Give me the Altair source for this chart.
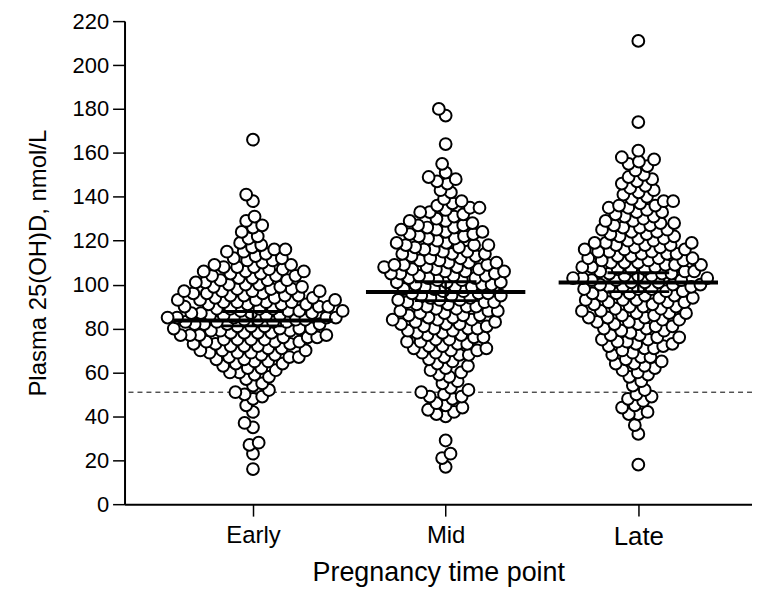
import math
import altair as alt
import pandas as pd

# ---------------- data ----------------
categories = ["Early", "Mid", "Late"]

early_vals = [
    16, 23, 27, 28, 35, 37, 42, 45, 48, 49,
    50, 51, 52, 54, 55, 57, 58, 59,
    60, 60, 61, 62, 62, 63, 64, 64, 65, 65, 66, 66, 67, 67, 67, 68, 68, 69, 69, 69,
    70, 70, 70, 71, 71, 72, 72, 72, 73, 73, 73, 74, 74, 74, 75, 75, 75, 75, 76, 76, 76,
    77, 77, 77, 77, 78, 78, 78, 78, 79, 79, 79,
    80, 80, 80, 80, 81, 81, 81, 82, 82, 82, 82, 83, 83, 83, 83, 84, 84, 84, 84,
    85, 85, 85, 85, 85, 86, 86, 86, 86, 87, 87, 87, 87, 88, 88, 88, 88, 89, 89, 89, 89,
    90, 90, 90, 91, 91, 91, 91, 92, 92, 92, 92, 93, 93, 93, 93, 94, 94, 94,
    95, 95, 95, 95, 96, 96, 96, 97, 97, 97, 97, 98, 98, 98, 99, 99, 99,
    100, 100, 100, 101, 101, 102, 102, 102, 103, 103, 104, 104, 104, 105, 105,
    106, 106, 106, 107, 107, 108, 108, 108, 109, 109,
    110, 111, 111, 112, 112, 113, 114, 115, 115, 116, 116, 117, 118, 119,
    121, 122, 124, 126, 127, 129, 131, 138, 141, 166,
]

mid_vals = [
    17, 21, 23, 29,
    40, 41, 42, 43, 44, 45, 46, 48, 49, 49,
    50, 51, 52, 53, 55, 56, 58, 59,
    60, 61, 62, 63, 64, 65, 66, 67, 68, 68, 69, 69,
    70, 70, 71, 71, 72, 72, 73, 73, 74, 74, 75, 75, 76, 76, 77, 77, 78, 78, 79, 79,
    80, 80, 80, 81, 81, 82, 82, 82, 83, 83, 84, 84, 84, 85, 85, 86, 86, 86, 87, 87,
    88, 88, 88, 89, 89,
    90, 90, 90, 91, 91, 92, 92, 92, 93, 93, 93, 94, 94, 95, 95, 95,
    96, 96, 96, 97, 97, 98, 98, 99, 99, 99,
    100, 100, 100, 101, 101, 101, 102, 102, 103, 103, 103, 104, 104, 104,
    105, 105, 105, 106, 106, 106, 107, 107, 107, 108, 108, 108, 109, 109, 109,
    110, 110, 110, 111, 111, 112, 112, 113, 113, 114, 114, 114, 115, 115,
    116, 116, 117, 117, 118, 118, 118, 119, 119,
    120, 121, 121, 122, 122, 123, 123, 124, 124, 125, 125, 126, 126, 127, 127, 128, 129, 129,
    130, 131, 132, 133, 133, 134, 135, 135, 136, 137, 138, 139,
    142, 143, 146, 147, 148, 149, 151, 155, 164, 177, 180,
]

late_vals = [
    18, 32, 36,
    41, 41, 42, 44, 45, 47, 48, 49,
    50, 52, 54, 56, 58, 59,
    60, 61, 62, 63, 64, 64, 65, 66, 67, 67, 68, 69,
    70, 71, 71, 72, 72, 73, 73, 74, 74, 75, 75, 76, 76, 77, 77, 78, 79, 79,
    80, 80, 81, 81, 82, 82, 83, 83, 84, 84, 85, 85, 85, 86, 86, 87, 87, 87, 88, 88, 89, 89,
    90, 90, 90, 91, 91, 92, 92, 92, 93, 93, 93, 94, 94, 95, 95, 95,
    96, 96, 96, 97, 97, 98, 98, 98, 99, 99, 99,
    100, 100, 100, 101, 101, 101, 102, 102, 102, 103, 103, 103, 104, 104, 104,
    105, 105, 105, 106, 106, 106, 107, 107, 107, 108, 108, 108, 109, 109, 109,
    110, 110, 110, 111, 111, 111, 112, 112, 112, 113, 113, 114, 114, 114, 115, 115, 115,
    116, 116, 116, 117, 117, 118, 118, 118, 119, 119, 119,
    120, 120, 121, 121, 122, 122, 123, 123, 124, 124, 125, 125, 126, 126, 127, 127, 128, 128,
    129, 129,
    130, 131, 131, 132, 133, 133, 134, 135, 135, 136, 136, 137, 138, 138, 139,
    140, 141, 142, 143, 144, 145, 146, 147, 148, 149,
    150, 152, 154, 155, 156, 157, 158, 161, 174, 211,
]

mean_vals = [83.6, 96.6, 101.0]
ci_lo = [81.2, 92.7, 96.8]
ci_hi = [87.7, 101.3, 105.4]
threshold = 51

# ---------------- layout helpers ----------------
W, H = 630, 485
Y_MAX = 220
X_MIN, X_MAX = 1 / 3, 3.59
PX_Y = H / Y_MAX
PX_X = W / (X_MAX - X_MIN)


def swarm(vals, d):
    """Deterministic beeswarm: horizontal pixel offsets for each value."""
    ypx = [v * PX_Y for v in vals]
    order = sorted(range(len(vals)), key=lambda i: vals[i])
    xs = [0.0] * len(vals)
    placed = []
    for i in order:
        y = ypx[i]
        forb = []
        for py, pxx in placed:
            dy = abs(y - py)
            if dy < d:
                w = math.sqrt(d * d - dy * dy)
                forb.append((pxx - w, pxx + w))
        cands = [0.0] + [a for a, b in forb] + [b for a, b in forb]
        cands.sort(key=lambda c: (abs(c), c))
        for c in cands:
            if all(not (a + 1e-6 < c < b - 1e-6) for a, b in forb):
                xs[i] = c
                break
        placed.append((y, xs[i]))
    return xs


rows = []
for gi, vals in enumerate([early_vals, mid_vals, late_vals], start=1):
    offs = swarm(vals, 9.5)
    for v, o in zip(vals, offs):
        rows.append({"group": categories[gi - 1], "value": v, "x": gi + o / PX_X})
pts = pd.DataFrame(rows)

stats = pd.DataFrame({
    "group": categories,
    "pos": [1, 2, 3],
    "mean": mean_vals,
    "lo": ci_lo,
    "hi": ci_hi,
})
MEAN_HALF = 80 / PX_X
CAP_HALF = 31 / PX_X
stats["ml"] = stats["pos"] - MEAN_HALF
stats["mr"] = stats["pos"] + MEAN_HALF
stats["cl"] = stats["pos"] - CAP_HALF
stats["cr"] = stats["pos"] + CAP_HALF

FONT = "Liberation Sans"

xscale = alt.Scale(domain=[X_MIN, X_MAX], nice=False, zero=False)
yscale = alt.Scale(domain=[0, Y_MAX], nice=False)

label_expr = "datum.value == 1 ? 'Early' : datum.value == 2 ? 'Mid' : 'Late'"

x_axis = alt.Axis(
    values=[1, 2, 3], labelExpr=label_expr, title="Pregnancy time point",
    grid=False, tickSize=12, tickWidth=1.5, domainWidth=2, domainColor="black",
    tickColor="black", labelColor="black",
    labelFontSize={"condition": {"test": "datum.value == 3", "value": 26}, "value": 24},
    labelFont=FONT, labelPadding=7, titleFont=FONT, titleFontSize=27,
    titleFontWeight="normal", titleColor="black", titlePadding=11,
)
y_axis = alt.Axis(
    values=list(range(0, 221, 20)), title="Plasma 25(OH)D, nmol/L",
    grid=False, tickSize=12, tickWidth=1.5, domainWidth=2, domainColor="black",
    tickColor="black", labelColor="black", labelFontSize=22, labelFont=FONT,
    labelPadding=4, titleFont=FONT, titleFontSize=24, titleFontWeight="normal",
    titleColor="black", titlePadding=22,
)

dashed = alt.Chart(pd.DataFrame({"t": [threshold]})).mark_rule(
    color="black", strokeWidth=1, strokeDash=[5, 4]
).encode(y=alt.Y("t:Q", scale=yscale, axis=y_axis))

points = alt.Chart(pts).mark_point(
    shape="circle", filled=False, fill="white", fillOpacity=1, stroke="black",
    strokeWidth=2, size=140, opacity=1,
).encode(
    x=alt.X("x:Q", scale=xscale, axis=x_axis),
    y=alt.Y("value:Q", scale=yscale, axis=y_axis),
)

mean_line = alt.Chart(stats).mark_rule(color="black", strokeWidth=4).encode(
    x=alt.X("ml:Q", scale=xscale), x2="mr:Q", y=alt.Y("mean:Q", scale=yscale)
)
ci_v = alt.Chart(stats).mark_rule(color="black", strokeWidth=2.5).encode(
    x=alt.X("pos:Q", scale=xscale), y=alt.Y("lo:Q", scale=yscale), y2="hi:Q"
)
cap_lo = alt.Chart(stats).mark_rule(color="black", strokeWidth=3).encode(
    x=alt.X("cl:Q", scale=xscale), x2="cr:Q", y=alt.Y("lo:Q", scale=yscale)
)
cap_hi = alt.Chart(stats).mark_rule(color="black", strokeWidth=3).encode(
    x=alt.X("cl:Q", scale=xscale), x2="cr:Q", y=alt.Y("hi:Q", scale=yscale)
)

chart = alt.layer(dashed, points, mean_line, ci_v, cap_lo, cap_hi).properties(
    width=W, height=H, background="white",
    autosize=alt.AutoSizeParams(type="none"),
    padding={"left": 117, "top": 12, "right": 0, "bottom": 84},
).configure_view(stroke=None)

chart.save("out.html", embed_options={"renderer": "svg", "actions": False})
